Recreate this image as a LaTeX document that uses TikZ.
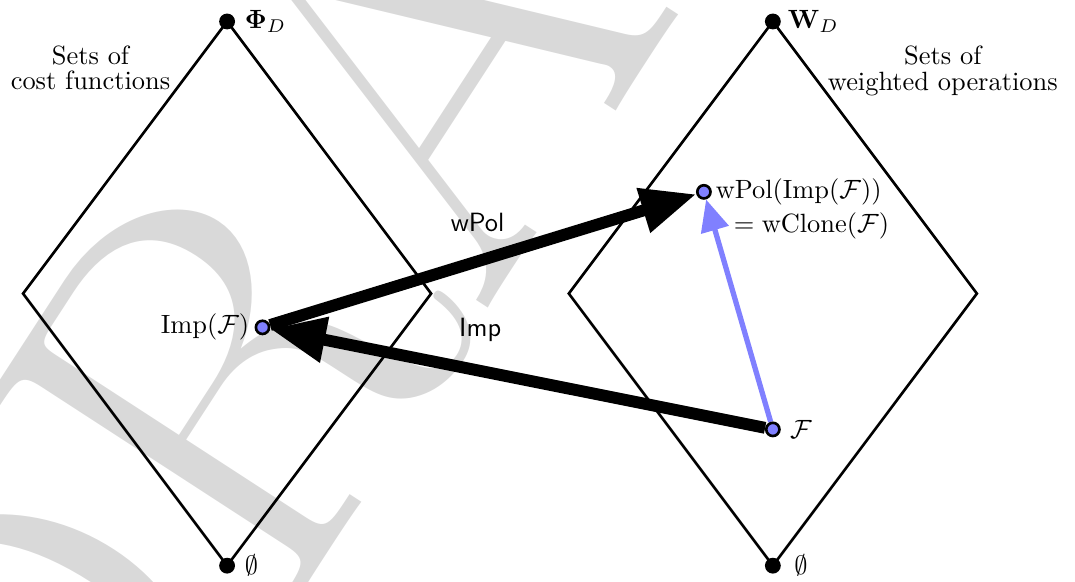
\documentclass[tikz,border=0pt]{standalone}
\usepackage[no-math]{fontspec}
\usetikzlibrary{arrows.meta,backgrounds}
\definecolor{draftgray}{gray}{0.85}
\definecolor{dotblue}{rgb}{0.5,0.5,1}
\tikzset{
  setdot/.style={circle,fill=black,inner sep=0pt,minimum size=6pt},
  elemdot/.style={circle,draw=black,line width=1pt,fill=dotblue,inner sep=0pt,minimum size=5pt},
  galois/.style={line width=4.5pt,-{Triangle[length=21pt,width=16.5pt]}},
  closure/.style={dotblue,line width=2pt,-{Triangle[length=12pt,width=10.5pt]}},
  settitle/.style={align=center},
  watermark/.style={draftgray,inner sep=0pt,font=\fontsize{205}{205}\selectfont}
}
\begin{document}
\begin{tikzpicture}
\useasboundingbox (0,0) rectangle (14.31,7.74);
\newcommand{\lineclr}{black}
% the two lattices
\node[setdot,label=right:$\mathbf{\Phi}_D$] (PhiD) at (3.023,7.454) {};
\node[setdot,label=right:$\emptyset$] (emptyL) at (3.023,0.210) {};
\node[setdot,label={[label distance=-1pt]right:$\mathbf{W}_D$}] (WD) at (10.288,7.454) {};
\node[setdot,label={[label distance=1.4pt]right:$\emptyset$}] (emptyR) at (10.288,0.210) {};
\node[settitle] (costLbl) at (1.205,6.838) {Sets of\\[-2.4pt]cost functions};
\node[settitle] (wopLbl) at (12.55,6.796) {Sets of\\[-2.4pt]weighted operations};
% the elements
\node[elemdot,label={[label distance=-1.5pt]left:$\mathrm{Imp}(\mathcal{F})$}] (ImpF) at (3.494,3.382) {};
\node[elemdot,label={[label distance=-2pt]right:$\mathrm{wPol}(\mathrm{Imp}(\mathcal{F}))$}] (wPolImp) at (9.370,5.186) {};
\node[anchor=west] (wCloneLbl) at (9.646,4.739) {$=\mathrm{wClone}(\mathcal{F})$};
\node[elemdot,label=right:$\mathcal{F}$] (Fset) at (10.288,2.024) {};
\node (wPolArr) at (6.358,4.774) {\sffamily wPol};
\node (ImpArr) at (6.392,3.353) {\sffamily Imp};
\begin{pgfonlayer}{background}
\begin{scope}
\clip (0,0) rectangle (14.31,7.74);
\node[watermark,rotate=57,anchor=base west] (draft) at (0.96,-4.89) {DRAFT};
\end{scope}
\draw[\lineclr,line width=1pt] (PhiD.center) -- (0.307,3.832) -- (emptyL.center) -- (5.739,3.832) -- cycle;
\draw[\lineclr,line width=1pt] (WD.center) -- (7.572,3.832) -- (emptyR.center) -- (13.004,3.832) -- cycle;
\draw[galois] (ImpF) -- (wPolImp);
\draw[galois] (Fset) -- (ImpF);
\draw[closure] (Fset) -- (wPolImp);
\end{pgfonlayer}
\end{tikzpicture}
\end{document}
